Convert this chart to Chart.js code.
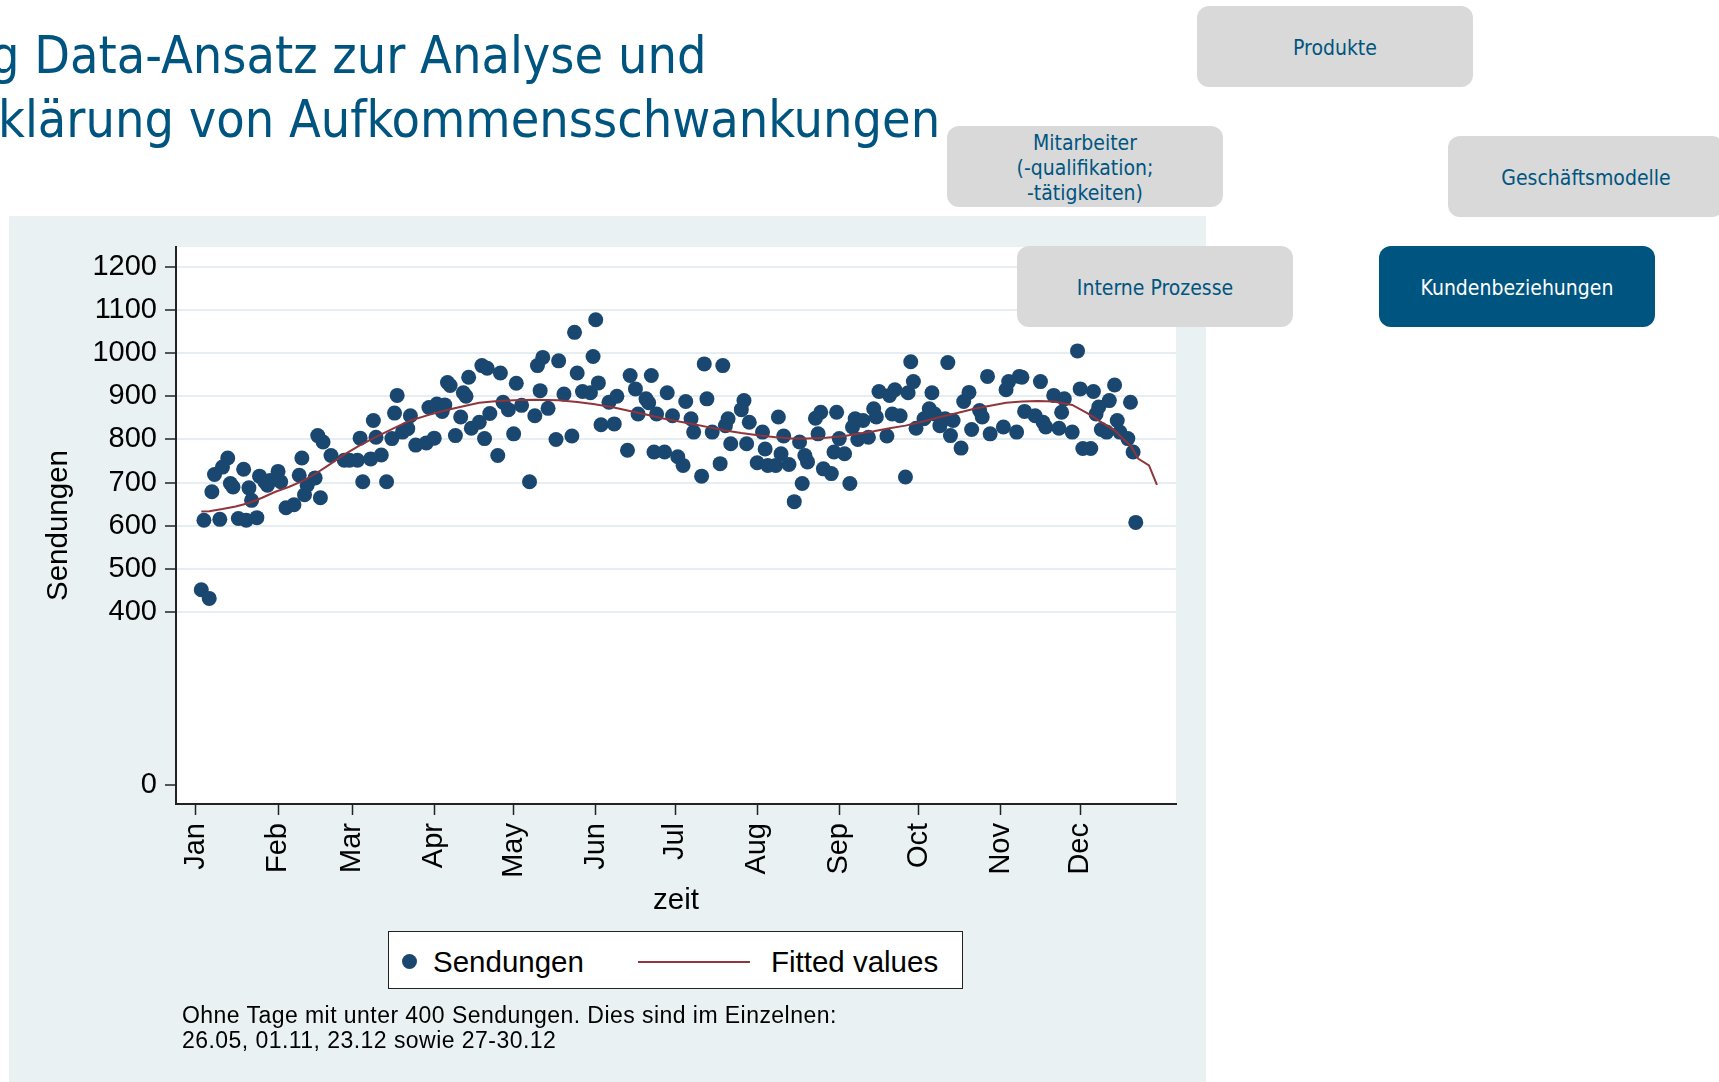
<!DOCTYPE html>
<html lang="de">
<head>
<meta charset="utf-8">
<title>Sendungen nach Tagen</title>
<script src="https://cdn.jsdelivr.net/npm/chart.js"></script>
<style>
    html, body { margin: 0; padding: 0; background: #fff; }
    body { width: 1719px; height: 1082px; position: relative; overflow: hidden; font-family: "Liberation Sans", Arial, sans-serif; }
    .titel { position: absolute; font-family: "DejaVu Sans Condensed", "DejaVu Sans", sans-serif; font-size: 51.7px; line-height: 64.3px; color: #005580; white-space: nowrap; }
    .box { position: absolute; width: 276px; height: 81px; box-sizing: border-box; padding-top: 3px; border-radius: 12px; background: #d9d9d9; color: #005580;
           font-family: "DejaVu Sans Condensed", "DejaVu Sans", sans-serif; font-size: 21px; line-height: 25px;
           display: flex; align-items: center; justify-content: center; text-align: center; z-index: 2; }
    .box.aktiv { background: #005580; color: #fff; }
    #panel { position: absolute; left: 9px; top: 216px; width: 1197px; height: 866px; background: #e9f1f3; }
    #legende { position: absolute; left: 388px; top: 931px; width: 575px; height: 58px; box-sizing: border-box;
               border: 1.5px solid #222; background: #fff; display: flex; align-items: center; padding-left: 13px; padding-top: 3px;
               font-size: 29.5px; color: #000; }
    #legende .punkt { width: 15px; height: 15px; border-radius: 50%; margin-right: 16px; }
    #legende .linie { width: 112px; height: 0; border-top: 2px solid; margin-left: 54px; margin-right: 21px; }
    #hinweis { position: absolute; left: 182px; top: 1003px; font-size: 23px; line-height: 24.5px; letter-spacing: 0.45px; color: #000; }
</style>
</head>
<body>

<div class="titel" style="left:-10px; top:23px;">g Data-Ansatz zur Analyse und</div>
<div class="titel" style="left:-2px; top:87px;">klärung von Aufkommensschwankungen</div>

<div class="box" style="left:1197px; top:6px;">Produkte</div>
<div class="box" style="left:947px; top:126px;">Mitarbeiter<br>(-qualifikation;<br>-tätigkeiten)</div>
<div class="box" style="left:1448px; top:136px;">Geschäftsmodelle</div>
<div class="box" style="left:1017px; top:246px;">Interne Prozesse</div>
<div class="box aktiv" style="left:1379px; top:246px;">Kundenbeziehungen</div>

<div id="panel"><canvas id="myChart" width="1197" height="866"></canvas></div>
<div id="legende"></div>
<div id="hinweis">Ohne Tage mit unter 400 Sendungen. Dies sind im Einzelnen:<br>26.05, 01.11, 23.12 sowie 27-30.12</div>

<script>
// Monate (Tag im Jahr, 0 = 1. Januar)
const monate = ['Jan', 'Feb', 'Mar', 'Apr', 'May', 'Jun', 'Jul', 'Aug', 'Sep', 'Oct', 'Nov', 'Dec'];
const monatsAnfang = [0, 31, 59, 90, 120, 151, 181, 212, 243, 273, 304, 334];
const yTicks = [0, 400, 500, 600, 700, 800, 900, 1000, 1100, 1200];

// Sendungen pro Tag
const tage = [2, 3, 5, 6, 7, 9, 10, 12, 13, 14, 16, 18, 19, 20, 21, 23, 24, 26, 27, 28,
    31, 32, 34, 37, 39, 40, 41, 42, 45, 46, 47, 48, 51, 56, 58, 61, 62, 63, 66, 67,
    68, 70, 72, 74, 75, 76, 78, 80, 81, 83, 87, 88, 90, 91, 93, 94, 95, 96, 98, 100,
    101, 102, 103, 104, 107, 108, 109, 110, 111, 114, 115, 116, 118, 120, 121, 123, 126, 128, 129, 130,
    131, 133, 136, 137, 139, 142, 143, 144, 146, 149, 150, 151, 152, 153, 156, 158, 159, 163, 164, 166,
    167, 170, 171, 172, 173, 174, 177, 178, 180, 182, 184, 185, 187, 188, 191, 192, 193, 195, 198, 199,
    200, 201, 202, 206, 207, 208, 209, 212, 214, 215, 216, 219, 220, 221, 222, 224, 226, 228, 229, 230,
    231, 234, 235, 236, 237, 240, 241, 242, 243, 245, 247, 248, 249, 250, 252, 254, 256, 257, 258, 261,
    262, 263, 264, 266, 268, 269, 270, 271, 272, 275, 277, 278, 279, 281, 283, 284, 285, 286, 289, 290,
    292, 293, 296, 297, 299, 300, 305, 306, 307, 310, 311, 312, 313, 317, 319, 320, 321, 324, 326, 327,
    328, 331, 333, 334, 335, 338, 339, 340, 341, 342, 344, 345, 347, 348, 349, 352, 353, 354, 355];
const sendungen = [452, 613, 432, 679, 719, 615, 736, 757, 698, 690, 617, 731, 613, 688, 659, 619, 715, 702, 694, 705,
    726, 702, 642, 649, 717, 757, 672, 694, 711, 809, 665, 794, 763, 752, 752, 752, 803, 702, 755, 844,
    805, 764, 702, 802, 861, 902, 817, 825, 855, 787, 792, 874, 803, 882, 865, 880, 932, 925, 809, 852,
    908, 900, 944, 826, 840, 971, 802, 965, 860, 763, 954, 886, 869, 813, 930, 879, 702, 855, 971, 913,
    990, 872, 800, 982, 905, 808, 1048, 954, 911, 908, 992, 1077, 931, 834, 886, 836, 900, 775, 948, 917,
    859, 894, 885, 948, 771, 859, 771, 908, 855, 760, 740, 888, 848, 817, 715, 975, 894, 817, 744, 971,
    832, 848, 790, 869, 890, 790, 840, 746, 817, 778, 740, 740, 852, 767, 808, 742, 656, 794, 698, 763,
    748, 849, 813, 863, 732, 721, 771, 863, 802, 767, 698, 829, 848, 800, 844, 805, 871, 852, 911, 808,
    902, 859, 915, 855, 713, 908, 980, 934, 826, 848, 871, 908, 859, 832, 848, 978, 809, 844, 780, 888,
    909, 823, 867, 852, 946, 813, 829, 915, 934, 817, 946, 944, 865, 855, 934, 840, 829, 902, 826, 863,
    894, 817, 1005, 917, 779, 779, 911, 859, 875, 823, 817, 890, 926, 844, 817, 802, 886, 771, 608];

// Fitted values
const fitTage = [2, 5, 10, 15, 20, 25, 30, 35, 40, 45, 50, 56, 62, 69, 75, 81, 88, 94, 101, 107,
    114, 120, 128, 137, 144, 150, 157, 163, 170, 176, 183, 188, 194, 200, 206, 213, 219, 225, 231, 238,
    245, 250, 256, 262, 268, 275, 281, 288, 294, 300, 306, 312, 318, 324, 331, 337, 343, 347, 350, 353,
    356, 360, 363];
const fitWerte = [633, 634, 639, 645, 653, 665, 679, 690, 703, 720, 740, 765, 787, 809, 827, 844, 857, 867, 877, 885,
    889, 891, 892, 891, 887, 882, 875, 867, 858, 849, 841, 835, 828, 821, 815, 809, 805, 802, 802, 804,
    808, 813, 819, 826, 832, 842, 852, 862, 871, 878, 885, 888, 889, 888, 880, 860, 836, 821, 803, 786,
    755, 740, 695];

Chart.defaults.font.family = '"Liberation Sans", Arial, sans-serif';
Chart.defaults.color = '#000';

// weisser Plotbereich
const plotHintergrund = {
    id: 'plotHintergrund',
    beforeDraw: function (chart) {
        const a = chart.chartArea;
        chart.ctx.save();
        chart.ctx.fillStyle = '#fff';
        chart.ctx.fillRect(a.left, a.top, a.right - a.left, a.bottom - a.top);
        chart.ctx.restore();
    }
};

var ctx = document.getElementById('myChart');
var myChart = new Chart(ctx, {
    data: {
        datasets: [{
            type: 'scatter',
            label: 'Sendungen',
            data: tage.map(function (t, i) { return { x: t, y: sendungen[i] }; }),
            backgroundColor: '#1a476f',
            borderWidth: 0,
            pointRadius: 7.5,
            order: 1
        }, {
            type: 'line',
            label: 'Fitted values',
            data: fitTage.map(function (t, i) { return { x: t, y: fitWerte[i] }; }),
            borderColor: '#90353b',
            borderWidth: 2,
            pointRadius: 0,
            fill: false,
            order: 0
        }]
    },
    options: {
        responsive: false,
        animation: false,
        events: [],
        layout: { padding: { left: 0, top: 31, right: 30, bottom: 0 } },
        plugins: { legend: { display: false }, tooltip: { enabled: false } },
        scales: {
            x: {
                type: 'linear',
                min: -7.55,
                max: 370.2,
                afterBuildTicks: function (scale) {
                    scale.ticks = monatsAnfang.map(function (v) { return { value: v }; });
                },
                afterFit: function (scale) { scale.height = 278; },
                ticks: {
                    autoSkip: false,
                    minRotation: 90,
                    maxRotation: 90,
                    padding: 8,
                    font: { size: 29 },
                    callback: function (v, i) { return monate[i]; }
                },
                grid: { drawOnChartArea: false, tickLength: 11, tickColor: '#222', tickWidth: 1.5 },
                border: { color: '#222', width: 2 },
                title: { display: true, text: 'zeit', font: { size: 29.5 }, padding: { top: 0, bottom: 163 } }
            },
            y: {
                min: -44,
                max: 1245.6,
                afterBuildTicks: function (scale) {
                    scale.ticks = yTicks.map(function (v) { return { value: v }; });
                },
                afterFit: function (scale) { scale.width = 167; },
                ticks: {
                    padding: 8,
                    font: { size: 29 },
                    callback: function (v) { return String(v); }
                },
                grid: {
                    color: function (c) { return c.tick && c.tick.value >= 400 ? '#e6eef1' : 'rgba(0,0,0,0)'; },
                    lineWidth: 2,
                    tickLength: 11,
                    tickColor: '#222',
                    tickWidth: 1.5
                },
                border: { color: '#222', width: 2 },
                title: { display: true, text: 'Sendungen', font: { size: 29.5 }, padding: { top: 32, bottom: 0 } }
            }
        }
    },
    plugins: [plotHintergrund]
});

// Legende im Stata-Stil
var legende = document.getElementById('legende');
myChart.data.datasets.forEach(function (ds) {
    var zeichen = document.createElement('span');
    if (ds.type === 'scatter') {
        zeichen.className = 'punkt';
        zeichen.style.background = ds.backgroundColor;
    } else {
        zeichen.className = 'linie';
        zeichen.style.borderTopColor = ds.borderColor;
    }
    var text = document.createElement('span');
    text.textContent = ds.label;
    legende.appendChild(zeichen);
    legende.appendChild(text);
});
</script>
</body>
</html>
